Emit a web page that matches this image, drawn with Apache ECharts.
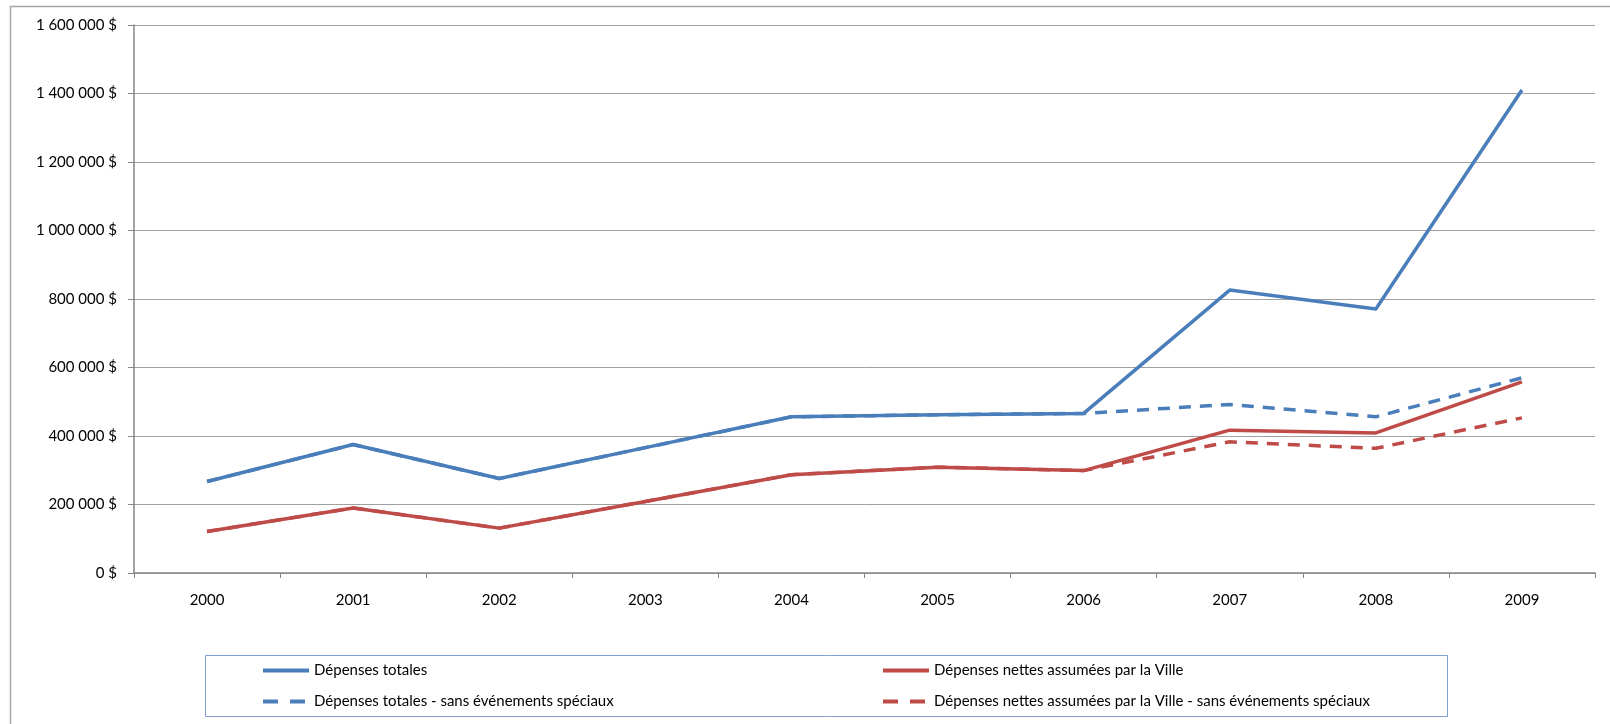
<!DOCTYPE html>
<html lang="fr">
<head>
<meta charset="utf-8">
<title>Dépenses 2000-2009</title>
<script src="https://cdn.jsdelivr.net/npm/echarts@6/dist/echarts.min.js"></script>
<style>
  html, body { margin: 0; padding: 0; background: #ffffff; }
  #chart { width: 1610px; height: 724px; }
</style>
</head>
<body>
<div id="chart"></div>
<script>
// Années
const years = ['2000', '2001', '2002', '2003', '2004', '2005', '2006', '2007', '2008', '2009'];

// Dépenses totales
const depensesTotales = [267000, 375000, 276000, 366000, 456000, 462000, 466000, 826000, 771000, 1410000];
// Dépenses nettes assumées par la Ville
const depensesNettes = [121000, 190000, 131000, 209000, 287000, 309000, 299000, 417000, 409000, 558000];
// Dépenses totales - sans événements spéciaux
const totalesSansSpeciaux = [267000, 375000, 276000, 366000, 456000, 462000, 466000, 492000, 456000, 570000];
// Dépenses nettes assumées par la Ville - sans événements spéciaux
const nettesSansSpeciaux = [121000, 190000, 131000, 209000, 287000, 309000, 299000, 383000, 364000, 453000];

const seriesNames = [
  'Dépenses totales',
  'Dépenses nettes assumées par la Ville',
  'Dépenses totales - sans événements spéciaux',
  'Dépenses nettes assumées par la Ville - sans événements spéciaux'
];

const BLUE = '#4a7ebb';
const RED = '#be4b48';
const FONT = 'Lato, "Open Sans", sans-serif';

function money(v) {
  const s = String(Math.round(v)).replace(/\B(?=(\d{3})+(?!\d))/g, ' ');
  return s + ' $';
}

function lineSeries(name, data, color, dashed) {
  return {
    name: name,
    type: 'line',
    data: data,
    symbol: 'none',
    smooth: false,
    lineStyle: {
      color: color,
      width: 3.5,
      type: dashed ? [12, 9] : 'solid',
      cap: 'butt',
      join: 'round'
    },
    itemStyle: { color: color },
    emphasis: { disabled: true },
    animation: false
  };
}

const chart = echarts.init(document.getElementById('chart'), null, { renderer: 'canvas' });

const legendCommon = {
  orient: 'vertical',
  padding: 0,
  itemWidth: 46,
  itemHeight: 14,
  itemGap: 16,
  lineStyle: { width: 4 },
  itemStyle: { opacity: 0 },
  textStyle: { fontFamily: FONT, fontSize: 15, color: '#000000' },
  selectedMode: false
};

const dashedLegendLine = { width: 4, type: [15, 12] };

chart.setOption({
  animation: false,
  backgroundColor: '#ffffff',
  textStyle: { fontFamily: FONT },
  grid: { left: 134, right: 15, top: 25, bottom: 151, containLabel: false },
  xAxis: {
    type: 'category',
    data: years,
    boundaryGap: true,
    axisLine: { show: true, lineStyle: { color: '#868686', width: 1.5 } },
    axisTick: { show: true, interval: 0, length: 5, lineStyle: { color: '#868686' } },
    axisLabel: { margin: 20, color: '#000000', fontSize: 15, fontFamily: FONT, interval: 0 },
    splitLine: { show: false }
  },
  yAxis: {
    type: 'value',
    min: 0,
    max: 1600000,
    interval: 200000,
    axisLine: { show: true, lineStyle: { color: '#868686', width: 1.5 } },
    axisTick: { show: true, length: 6, lineStyle: { color: '#868686' } },
    axisLabel: { margin: 17, color: '#000000', fontSize: 15, fontFamily: FONT, formatter: money },
    splitLine: { show: true, lineStyle: { color: '#a0a0a0', width: 1 } }
  },
  legend: [
    Object.assign({}, legendCommon, {
      left: 261, top: 663,
      data: [
        { name: seriesNames[0] },
        { name: seriesNames[2], lineStyle: dashedLegendLine }
      ]
    }),
    Object.assign({}, legendCommon, {
      left: 881, top: 663,
      data: [
        { name: seriesNames[1] },
        { name: seriesNames[3], lineStyle: dashedLegendLine }
      ]
    })
  ],
  graphic: [
    // cadre extérieur (haut et gauche)
    { type: 'line', shape: { x1: 10, y1: 6.5, x2: 1610, y2: 6.5 }, style: { stroke: '#a6a6a6', lineWidth: 1.5 }, silent: true },
    { type: 'line', shape: { x1: 10.5, y1: 6, x2: 10.5, y2: 724 }, style: { stroke: '#a6a6a6', lineWidth: 1.5 }, silent: true },
    // encadré de la légende
    { type: 'rect', shape: { x: 205.5, y: 655.5, width: 1242, height: 61 }, style: { fill: 'none', stroke: '#7f9fcf', lineWidth: 1 }, silent: true, z: 0 }
  ],
  series: [
    lineSeries(seriesNames[0], depensesTotales, BLUE, false),
    lineSeries(seriesNames[1], depensesNettes, RED, false),
    lineSeries(seriesNames[2], totalesSansSpeciaux, BLUE, true),
    lineSeries(seriesNames[3], nettesSansSpeciaux, RED, true)
  ]
});
</script>
</body>
</html>
